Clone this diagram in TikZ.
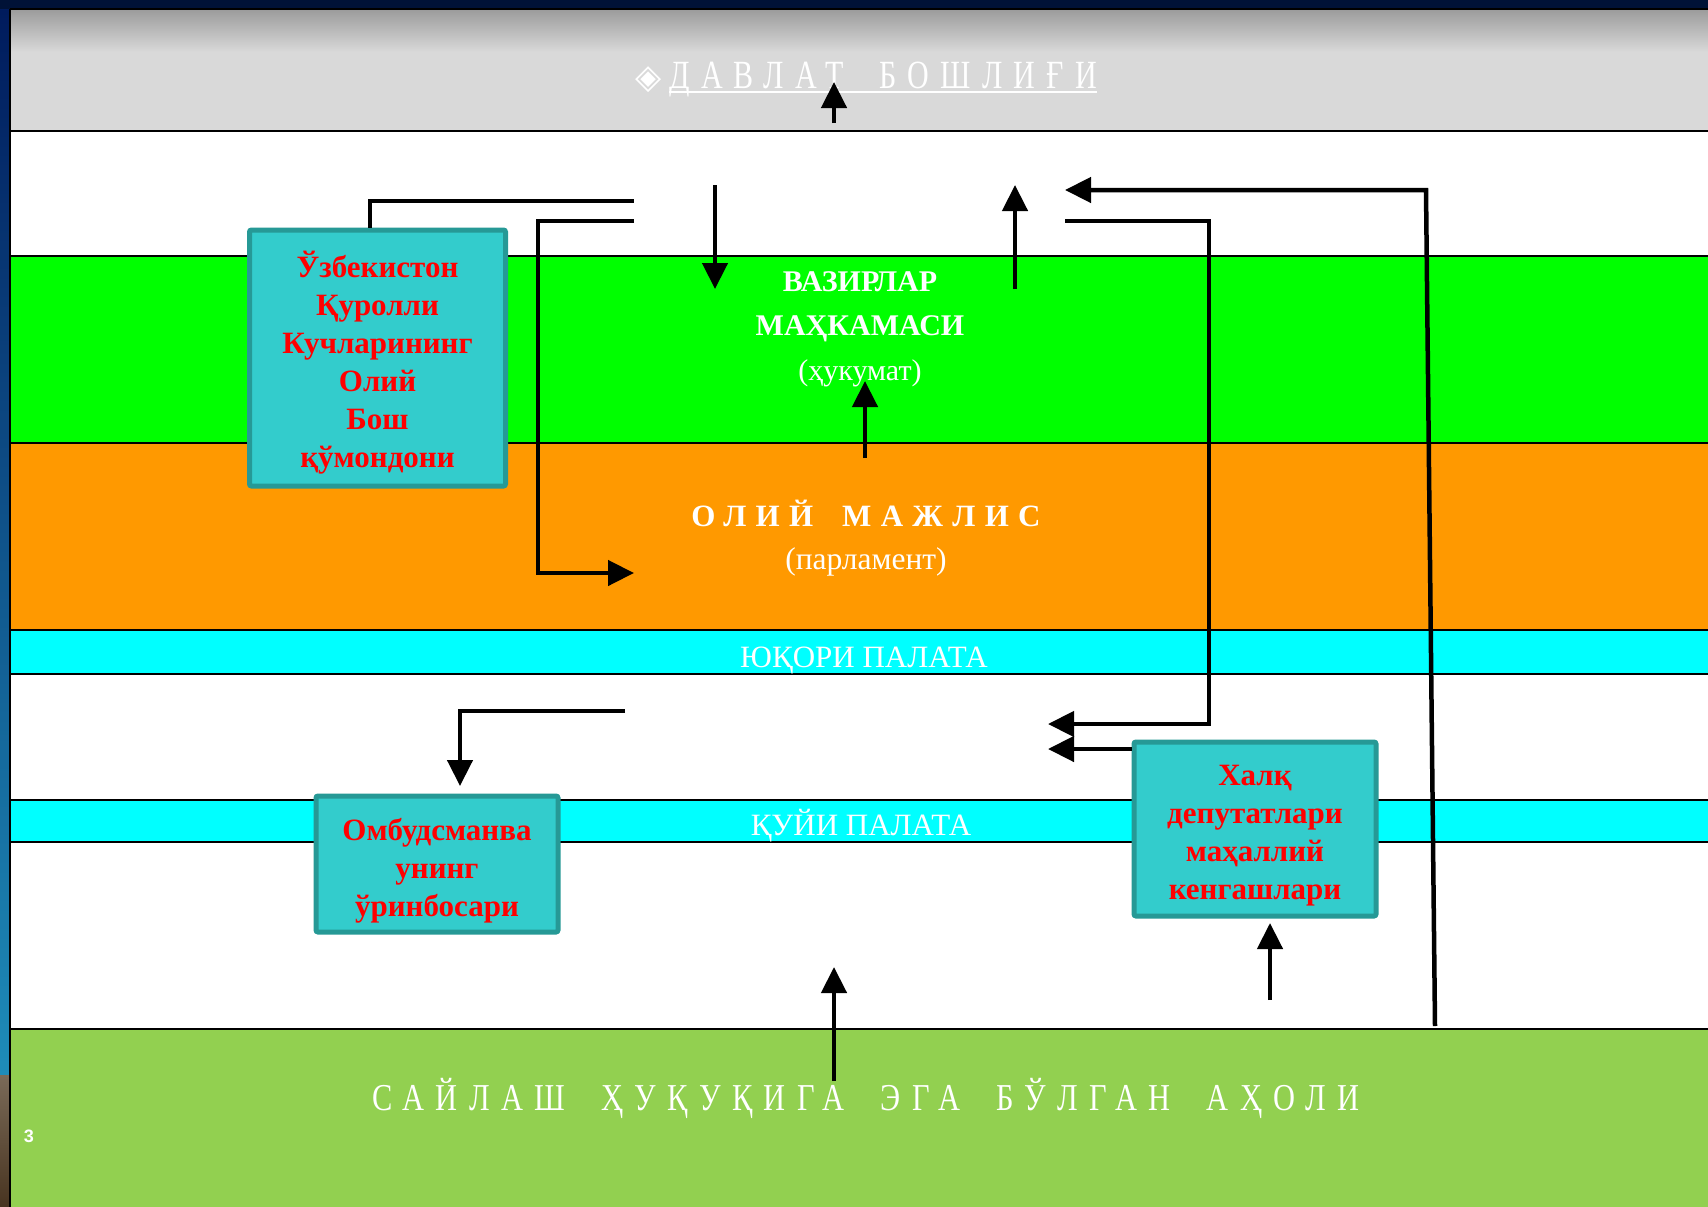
\documentclass[tikz,border=0pt]{standalone}
\usepackage{fontspec}
\setmainfont{Liberation Serif}
\newfontfamily\headfont[FakeStretch=0.75,LetterSpace=28,WordSpace=1.9]{Liberation Serif}
\newfontfamily\votefont[FakeStretch=0.8,LetterSpace=30,WordSpace=1.9]{Liberation Serif}
\newfontfamily\parlfont[LetterSpace=30,WordSpace=1.7]{Liberation Serif}
\newfontfamily\symfont{DejaVu Sans}
\newfontfamily\numfont{Liberation Sans}
\usetikzlibrary{arrows.meta,calc,positioning}
\newcommand{\arrowwidth}{4.5pt}
\newcommand{\bandrule}{2.5pt}
\newcommand{\headline}[1]{\setbox0=\hbox{#1}\rlap{\rule[-4.5pt]{\wd0}{2.5pt}}\box0}
\definecolor{slideNavy}{RGB}{0,26,92}
\definecolor{slideBlue}{RGB}{30,140,185}
\definecolor{slideBrownTop}{RGB}{122,106,88}
\definecolor{slideBrownBot}{RGB}{72,52,32}
\definecolor{topNavy}{RGB}{0,18,55}
\definecolor{grayTop}{RGB}{155,155,155}
\definecolor{slideGray}{RGB}{217,217,217}
\definecolor{cabGreen}{RGB}{0,255,0}
\definecolor{parlOrange}{RGB}{255,153,0}
\definecolor{houseCyan}{RGB}{0,255,255}
\definecolor{voteGreen}{RGB}{146,208,80}
\definecolor{boxTeal}{RGB}{51,204,204}
\definecolor{boxEdge}{RGB}{38,153,150}
\tikzset{
  >={Triangle[length=26pt,width=25pt]},
  band/.style={draw=black,line width=\bandrule},
  bandtext/.style={text=white,inner sep=0pt,align=center},
  box/.style={draw=boxEdge,fill=boxTeal,line width=5pt,rounded corners=2pt,inner sep=0pt},
  boxtext/.style={align=center,text=red,inner sep=0pt,font=\bfseries\fontsize{31}{38}\selectfont},
  line/.style={draw,line width=\arrowwidth,line join=miter},
}

\begin{document}
\begin{tikzpicture}[x=1pt,y=-1pt]
  \useasboundingbox (0,0) rectangle (1708,1207);
  % slide frame
  \shade[top color=slideNavy,bottom color=slideBlue] (0,0) rectangle (10,1075);
  \shade[top color=slideBrownTop,bottom color=slideBrownBot] (0,1075) rectangle (10,1207);
  \fill[topNavy] (0,0) rectangle (1708,9);
  % bands
  \fill[slideGray] (10,9) rectangle (1708,131);
  \shade[top color=grayTop,bottom color=slideGray] (10,9) rectangle (1708,52);
  \fill[white] (10,131) rectangle (1708,256);
  \fill[cabGreen] (10,256) rectangle (1708,443);
  \fill[parlOrange] (10,443) rectangle (1708,630);
  \fill[houseCyan] (10,630) rectangle (1708,674);
  \fill[white] (10,674) rectangle (1708,800);
  \fill[houseCyan] (10,800) rectangle (1708,842);
  \fill[white] (10,842) rectangle (1708,1029);
  \fill[voteGreen] (10,1029) rectangle (1708,1207);
  \draw[band] (10,9) -- (1708,9);
  \draw[band] (10,131) -- (1708,131);
  \draw[band] (10,256) -- (1708,256);
  \draw[band] (10,443) -- (1708,443);
  \draw[band] (10,630) -- (1708,630);
  \draw[band] (10,674) -- (1708,674);
  \draw[band] (10,800) -- (1708,800);
  \draw[band] (10,842) -- (1708,842);
  \draw[band] (10,1029) -- (1708,1029);
  \draw[band] (10,9) -- (10,1207);

  % band labels
  \node (head) [bandtext] at (866,80) {{\symfont\fontsize{34}{34}\selectfont ◈}\hspace{8pt}{\headfont\fontsize{40}{40}\selectfont\headline{ДАВЛАТ БОШЛИҒИ}}};
  \node (cab) [bandtext,font=\bfseries\fontsize{30}{44}\selectfont] at (860,307) {ВАЗИРЛАР\\МАҲКАМАСИ};
  \node (cabsub) [bandtext,font=\fontsize{30}{30}\selectfont,below=17pt of cab] {(ҳукумат)};
  \node (parl) [bandtext,font=\parlfont\bfseries\fontsize{31}{31}\selectfont] at (866,513) {ОЛИЙ МАЖЛИС};
  \node (parlsub) [bandtext,font=\fontsize{31.5}{31.5}\selectfont,below=21pt of parl] {(парламент)};
  \node (upper) [bandtext,font=\fontsize{31}{31}\selectfont] at (864,661) {ЮҚОРИ ПАЛАТА};
  \node (lower) [bandtext,font=\fontsize{31}{31}\selectfont] at (861,826) {ҚУЙИ ПАЛАТА};
  \node (vote) [bandtext,font=\votefont\fontsize{38}{38}\selectfont] at (866,1098) {САЙЛАШ ҲУҚУҚИГА ЭГА БЎЛГАН АҲОЛИ};
  \node (page) [bandtext,font=\numfont\bfseries\fontsize{18}{18}\selectfont] at (29,1136) {3};

  % boxes
  \node (chief) [box,minimum width=256pt,minimum height=256pt] at (377.5,358) {};
  \node (chieftext) [boxtext] at ([yshift=-5pt]chief.center) {Ўзбекистон\\Қуролли\\Кучларининг\\Олий\\Бош\\қўмондони};
  \node (ombud) [box,minimum width=242pt,minimum height=136pt] at (437,864) {};
  \node (ombudtext) [boxtext] at ([yshift=-6.5pt]ombud.center) {Омбудсманва\\унинг\\ўринбосари};
  \node (kengash) [box,minimum width=242pt,minimum height=174pt] at (1255,829) {};
  \node (kengashtext) [boxtext] at ([yshift=-7pt]kengash.center) {Халқ\\депутатлари\\маҳаллий\\кенгашлари};

  % connectors
  \coordinate (hs) at (834,123);
  \coordinate (he) at (834,82);
  \coordinate (ca) at (370,201);
  \coordinate (cb) at (634,201);
  \coordinate (pa) at (634,221);
  \coordinate (pb) at (538,221);
  \coordinate (pc) at (538,573);
  \coordinate (pd) at (634,573);
  \coordinate (da) at (715,185);
  \coordinate (db) at (715,289);
  \coordinate (ua) at (1015,289);
  \coordinate (ub) at (1015,185);
  \coordinate (ma) at (865,458);
  \coordinate (mb) at (865,381);
  \coordinate (ra) at (1065,221);
  \coordinate (rb) at (1209,221);
  \coordinate (rc) at (1209,724);
  \coordinate (rd) at (1048,724);
  \coordinate (sa) at (1435,1026);
  \coordinate (sb) at (1426,190);
  \coordinate (sc) at (1065,190);
  \coordinate (ka) at (1048,749);
  \coordinate (oa) at (625,711);
  \coordinate (ob) at (460,711);
  \coordinate (oc) at (460,786);
  \coordinate (va) at (834,1081);
  \coordinate (vb) at (834,967);
  \coordinate (la) at (1270,1000);
  \coordinate (lb) at (1270,923);
  \path [line,->] (hs) -- (he);
  \path [line] (chief.north -| ca) -- (ca) -- (cb);
  \path [line,->] (pa) -- (pb) -- (pc) -- (pd);
  \path [line,->] (da) -- (db);
  \path [line,->] (ua) -- (ub);
  \path [line,->] (ma) -- (mb);
  \path [line,->] (ra) -- (rb) -- (rc) -- (rd);
  \path [line,->] (sa) -- (sb) -- (sc);
  \path [line,->] (kengash.west |- ka) -- (ka);
  \path [line,->] (oa) -- (ob) -- (oc);
  \path [line,->] (va) -- (vb);
  \path [line,->] (la) -- (lb);
\end{tikzpicture}
\end{document}
